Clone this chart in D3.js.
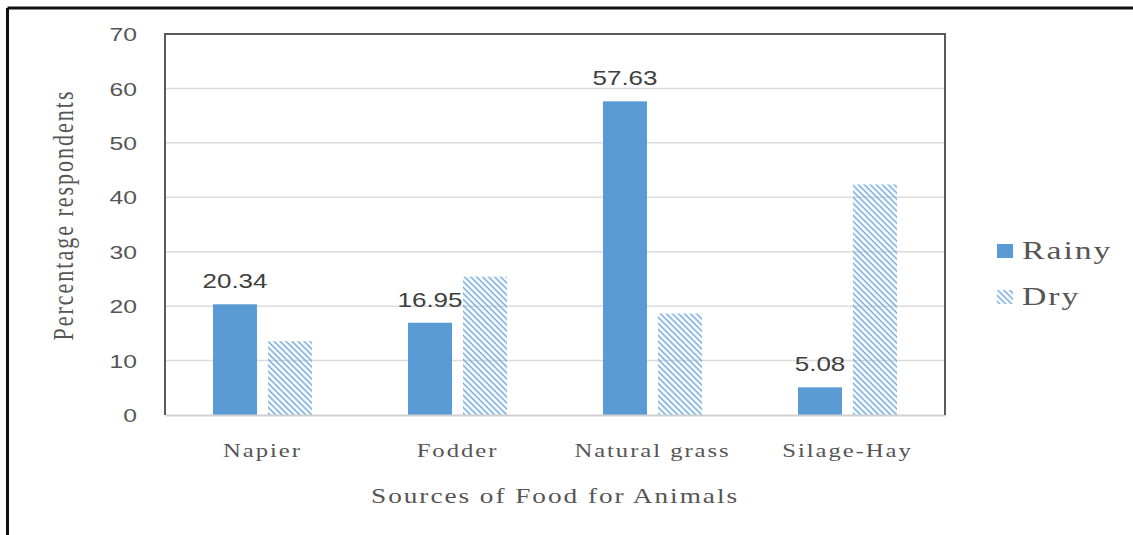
<!DOCTYPE html>
<html>
<head>
<meta charset="utf-8">
<script src="https://cdn.jsdelivr.net/npm/d3@7"></script>
<style>
  html, body { margin: 0; padding: 0; background: #fff; }
  svg { display: block; }
  .serif { font-family: "Liberation Serif", "Times New Roman", Times, serif; }
  .sans { font-family: "Liberation Sans", Arial, sans-serif; }
</style>
</head>
<body>
<svg id="chart" width="1133" height="535"></svg>
<script>
// Sources of food for animals, share of respondents (%) by season
const categories = ["Napier", "Fodder", "Natural grass", "Silage-Hay"];
const seasons = ["Rainy", "Dry"];
const rainyValues = [20.34, 16.95, 57.63, 5.08];
const dryValues = [13.56, 25.42, 18.64, 42.37];
const yTicks = [0, 10, 20, 30, 40, 50, 60, 70];
const xTitle = "Sources of Food for Animals";
const yTitle = "Percentage respondents";

const rows = categories.map((c, i) => ({ category: c, Rainy: rainyValues[i], Dry: dryValues[i] }));

const svg = d3.select("#chart");
const W = 1133, H = 535;
const plot = { left: 165, right: 945, top: 34, bottom: 415 };
const blue = "#5B9BD5";
const textGrey = "#555555";
const SX = 1.3; // horizontal stretch applied to all lettering

// hatch for the dry season bars: thin diagonal strokes running down to the right
const defs = svg.append("defs");
defs.append("pattern")
  .attr("id", "hatchDry")
  .attr("patternUnits", "userSpaceOnUse")
  .attr("width", 4.24).attr("height", 4.24)
  .attr("patternTransform", "rotate(-45)")
  .append("line")
  .attr("x1", 1.2).attr("y1", -1).attr("x2", 1.2).attr("y2", 6)
  .attr("stroke", "#72aadc").attr("stroke-width", 1.5);

const fills = { Rainy: blue, Dry: "url(#hatchDry)" };

// outer frame (top and left edges)
svg.append("line").attr("x1", 7.5).attr("x2", W).attr("y1", 8).attr("y2", 8)
  .attr("stroke", "#111").attr("stroke-width", 3);
svg.append("line").attr("x1", 7.5).attr("x2", 7.5).attr("y1", 8).attr("y2", H)
  .attr("stroke", "#111").attr("stroke-width", 3);

const x0 = d3.scaleBand().domain(categories).range([plot.left, plot.right]).padding(0);
const x1 = d3.scaleBand().domain(seasons).range([48, 147]).paddingInner(0.2);
const y = d3.scaleLinear().domain([0, 70]).range([plot.bottom, plot.top]);

// gridlines
svg.append("g").selectAll("line")
  .data(yTicks.filter(t => t > 0 && t < 70))
  .join("line")
  .attr("x1", plot.left).attr("x2", plot.right)
  .attr("y1", d => y(d)).attr("y2", d => y(d))
  .attr("stroke", "#dcdcdc").attr("stroke-width", 1.5);

// bars
const groups = svg.append("g").selectAll("g")
  .data(rows)
  .join("g")
  .attr("transform", d => `translate(${x0(d.category)},0)`);

groups.selectAll("rect")
  .data(d => seasons.map(s => ({ season: s, value: d[s] })))
  .join("rect")
  .attr("x", d => x1(d.season))
  .attr("width", x1.bandwidth())
  .attr("y", d => y(d.value))
  .attr("height", d => y(0) - y(d.value))
  .attr("fill", d => fills[d.season]);

// value labels on the rainy season bars
groups.append("text")
  .datum(d => d.Rainy)
  .attr("class", "sans")
  .attr("transform", d => `translate(${x1("Rainy") + x1.bandwidth() / 2},${y(d) - 16}) scale(${SX},1)`)
  .attr("text-anchor", "middle")
  .attr("font-size", 20)
  .attr("fill", "#404040")
  .text(d => d.toFixed(2));

// x axis
const xAxis = svg.append("g")
  .attr("transform", `translate(0,${plot.bottom})`)
  .call(d3.axisBottom(x0).tickSize(0).tickPadding(0));
xAxis.attr("font-family", null);
xAxis.select(".domain").attr("stroke", "#d0d0d0").attr("stroke-width", 2);
xAxis.selectAll(".tick text")
  .attr("class", "serif")
  .attr("y", 0).attr("dy", null)
  .attr("transform", `translate(0,42) scale(${SX},1)`)
  .attr("font-size", 19)
  .attr("letter-spacing", "1.5px")
  .attr("fill", textGrey);

// y axis
const yAxis = svg.append("g")
  .attr("transform", `translate(${plot.left},0)`)
  .call(d3.axisLeft(y).tickValues(yTicks).tickSize(0).tickPadding(0));
yAxis.attr("font-family", null);
yAxis.select(".domain").remove();
yAxis.selectAll(".tick text")
  .attr("class", "sans")
  .attr("x", 0).attr("dy", "0.35em")
  .attr("transform", `translate(-28,0) scale(${SX},1)`)
  .attr("font-size", 19)
  .attr("fill", textGrey);

// plot frame: left, top and right edges
svg.append("path")
  .attr("d", `M${plot.left},${plot.bottom}V${plot.top}H${plot.right}V${plot.bottom}`)
  .attr("fill", "none")
  .attr("stroke", "#5a5a5a")
  .attr("stroke-width", 2);

// axis titles
svg.append("text")
  .attr("class", "serif")
  .attr("transform", `translate(${(plot.left + plot.right) / 2},503) scale(${SX},1)`)
  .attr("text-anchor", "middle")
  .attr("font-size", 21)
  .attr("letter-spacing", "1.5px")
  .attr("fill", textGrey)
  .text(xTitle);

svg.append("text")
  .attr("class", "serif")
  .attr("transform", `translate(73,215) scale(${SX},1) rotate(-90)`)
  .attr("text-anchor", "middle")
  .attr("font-size", 22)
  .attr("letter-spacing", "2px")
  .attr("fill", textGrey)
  .text(yTitle);

// legend
const legend = svg.append("g").attr("transform", "translate(997,251)");
const items = legend.selectAll("g")
  .data(seasons)
  .join("g")
  .attr("transform", (d, i) => `translate(0,${i * 46})`);
items.append("rect")
  .attr("x", 0).attr("y", -7)
  .attr("width", 16).attr("height", 14)
  .attr("fill", d => fills[d]);
items.append("text")
  .attr("class", "serif")
  .attr("transform", `translate(25,8) scale(${SX},1)`)
  .attr("font-size", 26)
  .attr("letter-spacing", "1.5px")
  .attr("fill", textGrey)
  .text(d => d);
</script>
</body>
</html>
